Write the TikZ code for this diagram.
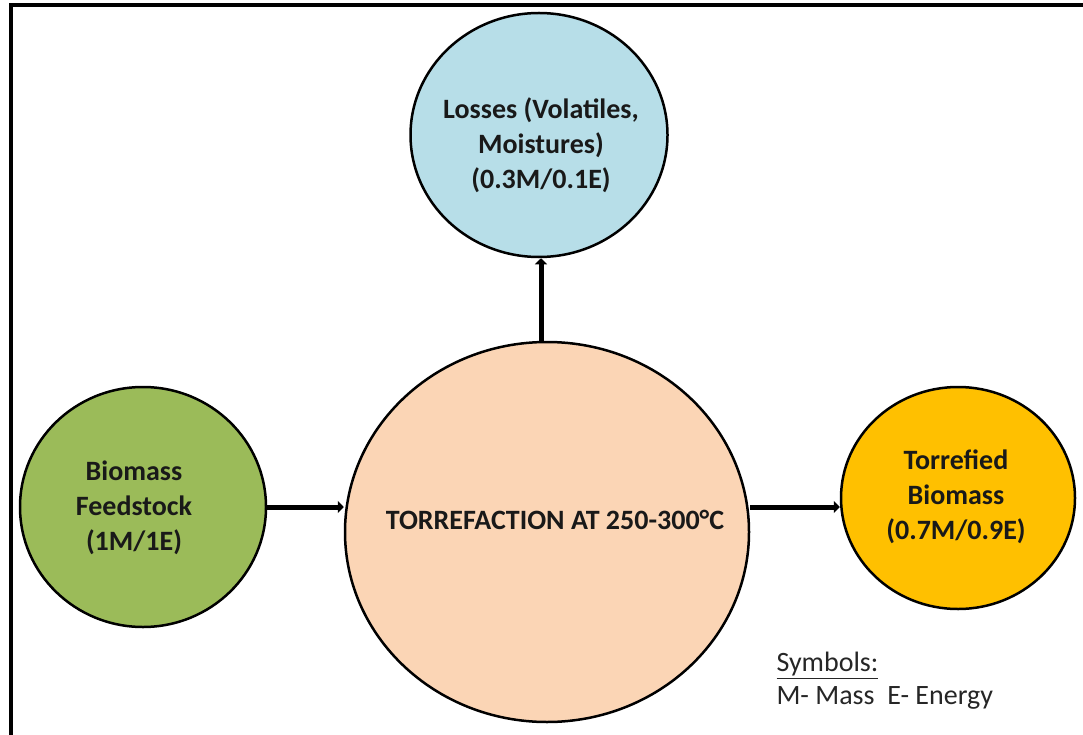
\documentclass[tikz,border=0pt]{standalone}
\usepackage{fontspec}
\setmainfont{Carlito}
\usetikzlibrary{shapes.geometric,arrows.meta}
\definecolor{cgreen}{HTML}{9BBB59}
\definecolor{cblue}{HTML}{B7DEE8}
\definecolor{cpeach}{HTML}{FBD5B5}
\definecolor{cyellow}{HTML}{FFC000}
\tikzset{
  blob/.style={ellipse,draw=black,line width=2.5pt,inner sep=0pt},
  lbl/.style={align=center,font=\fontsize{28}{35}\selectfont\bfseries,text=black!90},
  flow/.style={line width=5pt,-{Triangle[length=6pt,width=12pt]}},
  frame/.style={line width=4pt,black}
}
\begin{document}
\begin{tikzpicture}[x=1pt,y=-1pt]
\useasboundingbox (0,0) rectangle (1083,735);
\fill[white] (0,0) rectangle (1083,735);
\coordinate (fa) at (11,735);
\coordinate (fb) at (11,5);
\coordinate (fc) at (1083,5);
\draw[frame] (fa) -- (fb) -- (fc);
% circles
\node[blob,fill=cblue,minimum width=257pt,minimum height=244pt] (blue) at (539,135) {};
\node[blob,fill=cpeach,minimum width=404pt,minimum height=380pt] (orange) at (547,532) {};
\node[blob,fill=cgreen,minimum width=246pt,minimum height=240pt] (green) at (143,507) {};
\node[blob,fill=cyellow,minimum width=234pt,minimum height=222pt] (yellow) at (958,498) {};
% texts
\node[lbl] (tblue) at (541,145) {Losses (Volatiles,\\Moistures)\\(0.3M/0.1E)};
\node[lbl] (torange) at (555,520) {TORREFACTION AT 250-300°C};
\node[lbl] (tgreen) at (134,508) {Biomass\\Feedstock\\(1M/1E)};
\node[lbl] (tyellow) at (956,497) {Torrefied\\Biomass\\(0.7M/0.9E)};
% arrows
\draw[flow] (green.east |- 0,507) -- (orange.west |- 0,507);
\draw[flow] (orange.east |- 0,507) -- (yellow.west |- 0,507);
\draw[flow] (orange.north -| 541,0) -- (blue.south -| 541,0);
% legend
\node[anchor=west,align=left,font=\fontsize{28}{33}\selectfont,text=black!85] (legend) at (773,681)
  {\underline{Symbols:}\\M- Mass\ \ E- Energy};
\end{tikzpicture}
\end{document}
